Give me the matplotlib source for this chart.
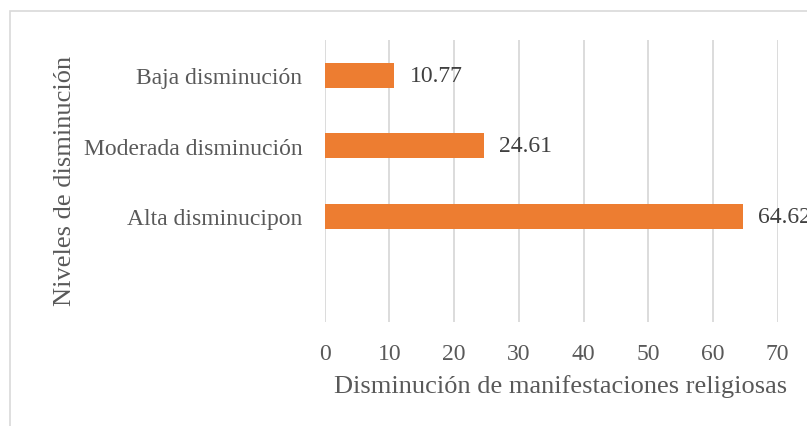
import matplotlib
matplotlib.use("Agg")
import matplotlib.pyplot as plt
from matplotlib.patches import Rectangle

categories = ["Baja disminución", "Moderada disminución", "Alta disminucipon", ""]
values = [10.77, 24.61, 64.62, None]
xticks = [0, 10, 20, 30, 40, 50, 60, 70]
xlabel = "Disminución de manifestaciones religiosas"
ylabel = "Niveles de disminución"

plt.rcParams['font.family'] = ['Liberation Serif', 'DejaVu Serif']
text_color = "#595959"
grid_color = "#D9D9D9"
bar_color = "#ED7D31"

fig = plt.figure(figsize=(8.07, 4.27), dpi=100)
fig.patches.append(Rectangle((10/807, -0.1), 1.2, (427-12)/427 + 0.1, transform=fig.transFigure,
                             fill=False, edgecolor=grid_color, linewidth=1.2))
ax = fig.add_axes([324.7/807, (427-322.7)/427, (777.7-324.7)/807, (322.7-41)/427])

pos = list(range(len(categories)))
vals_plot = [v if v is not None else 0 for v in values]
bars = ax.barh(pos, vals_plot, height=0.355, color=bar_color, zorder=3)
for p, v in zip(pos, values):
    if v is not None:
        ax.annotate(f"{v:.2f}", xy=(v, p), xytext=(11, 0), textcoords="offset points",
                    va="center", ha="left", fontsize=17, color="#404040",
                    annotation_clip=False, clip_on=False)

ax.set_xlim(0, 70)
ax.set_ylim(len(categories) - 0.5, -0.5)
ax.set_xticks(xticks)
ax.set_xticklabels([str(t) for t in xticks])
ax.set_yticks(pos)
ax.set_yticklabels(categories)
ax.tick_params(axis='both', length=0, labelsize=17, colors=text_color)
ax.tick_params(axis='y', pad=16)
ax.tick_params(axis='x', pad=15.5)
ax.xaxis.grid(True, color=grid_color, linewidth=1.3, zorder=0)
ax.set_axisbelow(True)
for s in ax.spines.values():
    s.set_visible(False)
ax.set_xlabel(xlabel, fontsize=19, color=text_color)
ax.xaxis.set_label_coords((560.5 - 324.7) / (777.7 - 324.7), -(375 - 322.7) / (322.7 - 41))
ax.set_ylabel(ylabel, fontsize=19, color=text_color)
ax.yaxis.set_label_coords((76 - 324.7) / (777.7 - 324.7), (322.7 - 181) / (322.7 - 41))

fig.savefig("out.png", dpi=100)
